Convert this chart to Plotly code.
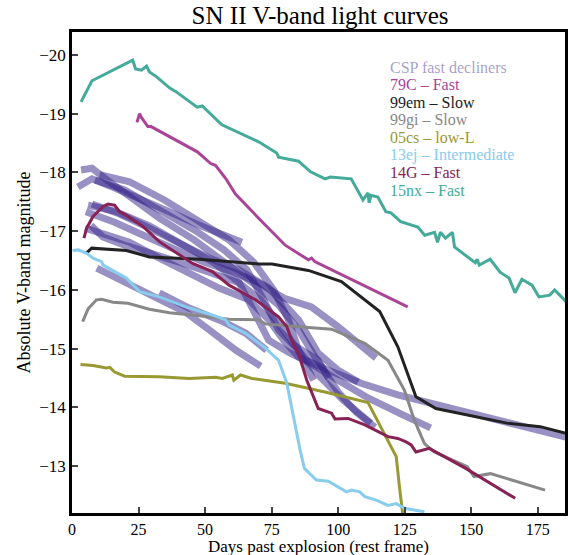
import plotly.graph_objects as go

# ---------------- data ----------------
sn_names = ["79C \u2013 Fast", "99em \u2013 Slow", "99gi \u2013 Slow", "05cs \u2013 low-L",
            "13ej \u2013 Intermediate", "14G \u2013 Fast", "15nx \u2013 Fast"]
sn_colors = ["#AA4499", "#222222", "#888888", "#999933", "#88CCEE", "#882255", "#44AA99"]
csp_label = "CSP fast decliners"
x_title = "Days past explosion (rest frame)"
y_title = "Absolute V-band magnitude"
chart_title = "SN II V-band light curves"

d79C = [24.4, 25.4, 26.0, 28.5, 29.7, 45.9, 47.1, 52.1, 53.9, 57.7, 61.4, 70.1, 80.1, 88.8, 90.0, 91.2, 126.1]
m79C = [-18.85, -19.00, -18.94, -18.78, -18.78, -18.38, -18.35, -18.15, -18.12, -17.90, -17.63, -17.22,
        -16.76, -16.51, -16.54, -16.48, -15.71]

d99em = [5.5, 7.4, 20.4, 29.1, 47.8, 70.1, 75.1, 88.8, 101.2, 115.6, 122.4, 129.2, 136.7, 148.5, 163.4, 175.9, 185.2]
m99em = [-16.63, -16.71, -16.67, -16.56, -16.52, -16.44, -16.44, -16.33, -16.14, -15.63, -15.03, -14.18,
         -13.98, -13.87, -13.73, -13.67, -13.56]

d99gi = [4.0, 6.1, 9.2, 11.1, 15.4, 21.0, 29.1, 36.6, 47.8, 59.0, 70.1, 72.6, 85.1, 97.5, 110.0, 118.7,
         124.9, 128.6, 132.4, 136.1, 148.5, 151.0, 157.2, 177.7]
m99gi = [-15.46, -15.68, -15.83, -15.84, -15.79, -15.77, -15.67, -15.61, -15.56, -15.50, -15.49, -15.42,
         -15.37, -15.33, -15.09, -14.80, -14.29, -13.78, -13.38, -13.24, -12.99, -12.82, -12.87, -12.59]

d05cs = [3.2, 7.9, 12.9, 14.2, 16.0, 19.8, 32.8, 44.0, 54.0, 56.5, 60.2, 60.8, 63.3, 67.6, 80.1, 95.0,
         111.2, 118.0, 121.8, 123.0, 124.3]
m05cs = [-14.73, -14.71, -14.67, -14.68, -14.60, -14.53, -14.52, -14.49, -14.51, -14.49, -14.55, -14.46,
         -14.55, -14.49, -14.41, -14.26, -14.08, -13.50, -13.16, -12.65, -12.16]

d13ej = [0.2, 2.4, 5.5, 7.9, 11.1, 11.7, 20.4, 24.1, 25.4, 32.8, 42.8, 52.7, 57.7, 59.0, 65.2, 72.6, 77.6,
         80.7, 83.8, 85.7, 87.3, 91.8, 96.3, 101.2, 103.1, 105.0, 108.1, 110.0, 114.3, 118.7, 121.8, 124.9, 132.4]
m13ej = [-16.67, -16.68, -16.62, -16.54, -16.48, -16.42, -16.20, -16.03, -15.97, -15.88, -15.71, -15.57,
         -15.49, -15.40, -15.26, -15.01, -14.80, -14.41, -13.67, -13.27, -12.96, -12.76, -12.74, -12.62,
         -12.56, -12.59, -12.56, -12.48, -12.42, -12.33, -12.36, -12.28, -12.22]

d14G = [4.5, 5.5, 7.9, 11.7, 13.5, 16.0, 17.9, 20.4, 26.6, 32.8, 45.3, 52.7, 59.0, 68.9, 77.6, 80.7, 82.6,
        85.1, 88.2, 92.5, 97.5, 98.8, 103.7, 110.0, 118.7, 122.4, 125.5, 127.4, 129.2, 134.2, 147.9, 166.5]
m14G = [-16.88, -17.05, -17.25, -17.42, -17.46, -17.44, -17.33, -17.27, -17.08, -16.82, -16.45, -16.31,
        -16.08, -15.83, -15.54, -15.37, -15.14, -14.91, -14.46, -13.98, -13.90, -13.80, -13.81, -13.70,
        -13.50, -13.47, -13.41, -13.36, -13.24, -13.30, -12.96, -12.45]

d15nx = [3.4, 7.5, 22.8, 23.9, 26.1, 28.0, 29.1, 31.7, 36.6, 39.2, 47.0, 48.9, 56.3, 70.1, 76.9, 77.6, 85.1,
         89.6, 95.1, 97.0, 104.9, 109.3, 111.2, 111.6, 112.3, 114.9, 117.9, 119.8, 123.5, 129.9, 132.5,
         136.2, 137.3, 138.4, 140.3, 142.9, 143.7, 146.6, 151.5, 152.2, 153.0, 157.1, 160.8, 164.2, 166.4,
         169.0, 172.8, 175.4, 179.5, 181.3, 185.8]
m15nx = [-19.20, -19.56, -19.91, -19.76, -19.74, -19.81, -19.71, -19.63, -19.44, -19.37, -19.11, -19.13,
         -18.81, -18.52, -18.33, -18.26, -18.19, -18.01, -17.89, -17.92, -17.89, -17.53, -17.65, -17.48,
         -17.61, -17.58, -17.33, -17.31, -17.16, -17.07, -16.93, -16.98, -16.81, -16.98, -16.88, -16.98,
         -16.73, -16.63, -16.46, -16.52, -16.42, -16.52, -16.30, -16.20, -15.95, -16.18, -16.08, -15.88,
         -15.91, -16.00, -15.79]

# CSP fast decliners (individual light curves)
csp_days = [
    [3.4, 7.5, 12.3, 21.6, 32.8, 45.9, 57.1, 68.3, 77.6, 85.1, 92.5, 100.0, 106.7, 113.8],
    [2.2, 7.5, 14.2, 25.4, 36.6, 47.8, 57.1, 63.8],
    [7.5, 17.9, 29.1, 40.3, 51.5, 62.7, 73.9, 85.1, 92.5, 100.0, 107.5],
    [5.2, 16.0, 27.2, 38.4, 49.6, 60.8, 70.1, 79.5, 85.1, 89.9, 100.0, 107.5, 114.2],
    [4.9, 10.4, 21.6, 32.8, 44.0, 55.2, 66.4, 73.9, 79.5, 85.1, 96.3, 108.6, 122.4, 141.0, 163.4, 185.8],
    [9.3, 25.4, 42.9, 51.5, 61.6, 70.9],
    [32.8, 44.0, 57.1, 65.3, 73.1],
    [7.1, 11.6, 19.8, 29.1, 40.3, 51.5, 62.7, 70.9, 77.6, 85.1, 92.5, 101.9, 112.3],
    [6.0, 16.0, 29.1, 42.2, 53.4, 62.7, 68.3, 73.9, 81.3, 88.8, 100.0, 111.2, 124.3, 134.7],
    [8.6, 19.8, 32.8, 45.9, 57.1, 65.7, 72.0, 77.6, 83.2, 92.5, 96.3],
    [10.4, 21.6, 34.7, 47.8, 59.0, 68.3, 75.7, 81.3, 85.1, 90.7],
]
csp_mags = [
    [-18.04, -18.07, -17.90, -17.60, -17.22, -16.85, -16.47, -16.10, -15.74, -15.32, -14.77, -14.26, -13.92, -13.66],
    [-17.75, -17.89, -17.77, -17.56, -17.33, -17.10, -16.92, -16.81],
    [-17.46, -17.29, -17.05, -16.78, -16.54, -16.34, -16.03, -15.49, -14.92, -14.63, -14.43],
    [-17.33, -17.15, -16.92, -16.68, -16.47, -16.30, -16.12, -15.86, -15.78, -15.71, -15.37, -15.09, -14.84],
    [-17.05, -16.98, -16.81, -16.54, -16.27, -16.03, -15.83, -15.49, -15.14, -14.86, -14.63, -14.41, -14.21, -14.00, -13.75, -13.49],
    [-16.37, -16.00, -15.61, -15.32, -14.97, -14.70],
    [-15.95, -15.69, -15.45, -15.26, -14.97],
    [-17.10, -16.90, -16.76, -16.64, -16.47, -16.30, -16.12, -15.83, -15.40, -14.97, -14.55, -14.12, -13.73],
    [-17.44, -17.34, -17.09, -16.75, -16.46, -16.13, -15.62, -15.14, -14.94, -14.77, -14.46, -14.16, -13.87, -13.65],
    [-17.87, -17.70, -17.36, -17.02, -16.68, -16.34, -15.83, -15.32, -15.06, -14.80, -14.50],
    [-17.96, -17.84, -17.53, -17.15, -16.85, -16.47, -16.00, -15.49, -14.97, -14.46],
]

x_ticks = [0, 25, 50, 75, 100, 125, 150, 175]
y_ticks = [-20, -19, -18, -17, -16, -15, -14, -13]
y_ticklabels = ["\u221220", "\u221219", "\u221218", "\u221217", "\u221216", "\u221215", "\u221214", "\u221213"]

# ---------------- figure ----------------
FONT = "Liberation Serif"
fig = go.Figure()

csp_color = "rgba(51,34,136,0.5)"
for dd, mm in zip(csp_days, csp_mags):
    fig.add_trace(go.Scatter(x=dd, y=mm, mode="lines", showlegend=False,
                             line=dict(color=csp_color, width=7)))

sn_data = [(d79C, m79C), (d99em, m99em), (d99gi, m99gi), (d05cs, m05cs),
           (d13ej, m13ej), (d14G, m14G), (d15nx, m15nx)]
for (dd, mm), c in zip(sn_data, sn_colors):
    fig.add_trace(go.Scatter(x=dd, y=mm, mode="lines", showlegend=False,
                             line=dict(color=c, width=3)))

# text-only legend
labels = [csp_label] + sn_names
lcolors = ["rgba(51,34,136,0.45)"] + sn_colors
for i, (t, c) in enumerate(zip(labels, lcolors)):
    fig.add_annotation(text=t, xref="paper", yref="paper", x=0.643, y=0.927 - i * 0.0366,
                       xanchor="left", yanchor="middle", showarrow=False, borderpad=0,
                       font=dict(family=FONT, size=16, color=c))

# x-axis title placed at the bottom edge of the figure
fig.add_annotation(text=x_title, xref="paper", yref="paper", x=0.5, y=-0.0873,
                   xanchor="center", yanchor="bottom", showarrow=False, borderpad=0, yshift=-2,
                   font=dict(family=FONT, size=17, color="black"))

fig.update_layout(
    width=570, height=555,
    margin=dict(l=72, r=2, t=32, b=42),
    plot_bgcolor="white", paper_bgcolor="white",
    font=dict(family=FONT, size=16, color="black"),
    title=dict(text=chart_title, x=0.5615, xanchor="center", y=0.972, yanchor="middle",
               font=dict(family=FONT, size=25, color="black")),
)
fig.update_xaxes(range=[0, 185.2], tickvals=x_ticks, ticks="inside", ticklen=6, tickwidth=2,
                 showline=True, linewidth=2.5, linecolor="black", mirror=True, showgrid=False,
                 zeroline=False, tickfont=dict(family=FONT, size=16, color="black"))
fig.update_yaxes(range=[-12.2, -20.39], tickvals=y_ticks, ticktext=y_ticklabels, ticks="inside",
                 ticklen=6, tickwidth=2,
                 showline=True, linewidth=2.5, linecolor="black", mirror=True, showgrid=False,
                 zeroline=False, tickfont=dict(family=FONT, size=17, color="black"),
                 title=dict(text=y_title, standoff=4,
                            font=dict(family=FONT, size=18, color="black")))

fig.write_html("out.html")
